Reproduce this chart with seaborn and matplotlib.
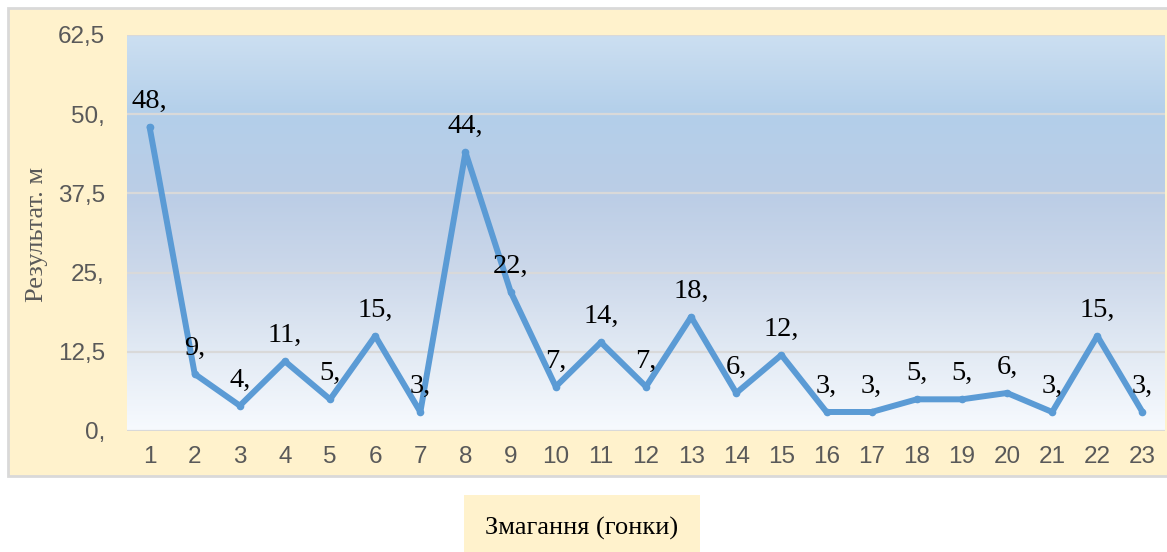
import numpy as np
import pandas as pd
import matplotlib
matplotlib.use("Agg")
import matplotlib.pyplot as plt
from matplotlib.colors import LinearSegmentedColormap
from matplotlib.patches import Rectangle
import seaborn as sns

# ---- data ----
races = list(range(1, 24))
results = [48, 9, 4, 11, 5, 15, 3, 44, 22, 7, 14, 7, 18, 6, 12, 3, 3, 5, 5, 6, 3, 15, 3]
y_ticks = [0, 12.5, 25, 37.5, 50, 62.5]
y_tick_labels = ["0,", "12,5", "25,", "37,5", "50,", "62,5"]
x_label = "Змагання (гонки)"
y_label = "Результат. м"

df = pd.DataFrame({"race": races, "result": results})

sns.set_theme(style="white")
plt.rcParams["font.family"] = ["Liberation Sans", "DejaVu Sans"]

W, H = 1167, 552
fig = plt.figure(figsize=(W / 100, H / 100), dpi=100)
fig.patch.set_facecolor("white")

# chart area background (beige with grey border)
fig.add_artist(Rectangle((8 / W, 1 - 476 / H), 1.2, (476 - 8) / H,
                         transform=fig.transFigure, facecolor="#FFF2CC",
                         edgecolor="#D9D9D9", linewidth=2, zorder=-10))

ax = fig.add_axes([127 / W, 1 - 431 / H, (1165 - 127) / W, (431 - 35) / H])
ax.set_facecolor("none")

# gradient plot area
cmap = LinearSegmentedColormap.from_list("grad", [
    (0.0, "#F7FAFE"), (0.2, "#E2EAF4"), (0.4, "#CCD8EA"),
    (0.6, "#BBCDE6"), (0.8, "#B3CFEA"), (1.0, "#CCDFF1")])
grad = np.linspace(0, 1, 256).reshape(-1, 1)
ax.imshow(grad, cmap=cmap, origin="lower", aspect="auto",
          extent=[0.5, 23.5, 0, 62.5], zorder=0)

for yt in y_ticks:
    ax.axhline(yt, color="#D9D9D9", linewidth=1.6, zorder=1)

sns.lineplot(data=df, x="race", y="result", ax=ax, color="#5B9BD5",
             linewidth=4.3, marker="o", markersize=5.5, markeredgewidth=0,
             zorder=3, legend=False)
for l in ax.lines[-1:]:
    l.set_solid_joinstyle("round")
    l.set_solid_capstyle("round")

for x, v in zip(races, results):
    ax.annotate(f"{v},", (x, v), xytext=(0, 19), textcoords="offset pixels",
                ha="center", va="baseline", fontsize=20.5,
                family=["Liberation Serif", "DejaVu Serif"], color="black",
                zorder=5)

ax.set_xlim(0.5, 23.5)
ax.set_ylim(0, 62.5)
ax.set_xticks(races)
ax.set_xticklabels([str(r) for r in races], fontsize=17.5, color="#595959")
ax.set_yticks(y_ticks)
ax.set_yticklabels(y_tick_labels, fontsize=17.5, color="#595959")
ax.tick_params(axis="x", length=0, pad=11)
ax.tick_params(axis="y", length=0, pad=16)
ax.set_xlabel("")
ax.set_ylabel("")
for s in ax.spines.values():
    s.set_visible(False)

fig.text(37 / W, 1 - 234 / H, y_label, rotation=90, ha="center", va="center",
         fontsize=19, color="#595959", family=["Liberation Serif", "DejaVu Serif"])
fig.text(582 / W, 1 - 528 / H, x_label, ha="center", va="center",
         fontsize=19, color="black", family=["Liberation Serif", "DejaVu Serif"],
         bbox=dict(boxstyle="square,pad=0.8", facecolor="#FFF2CC", edgecolor="none"))

fig.savefig("out.png", dpi=100)
